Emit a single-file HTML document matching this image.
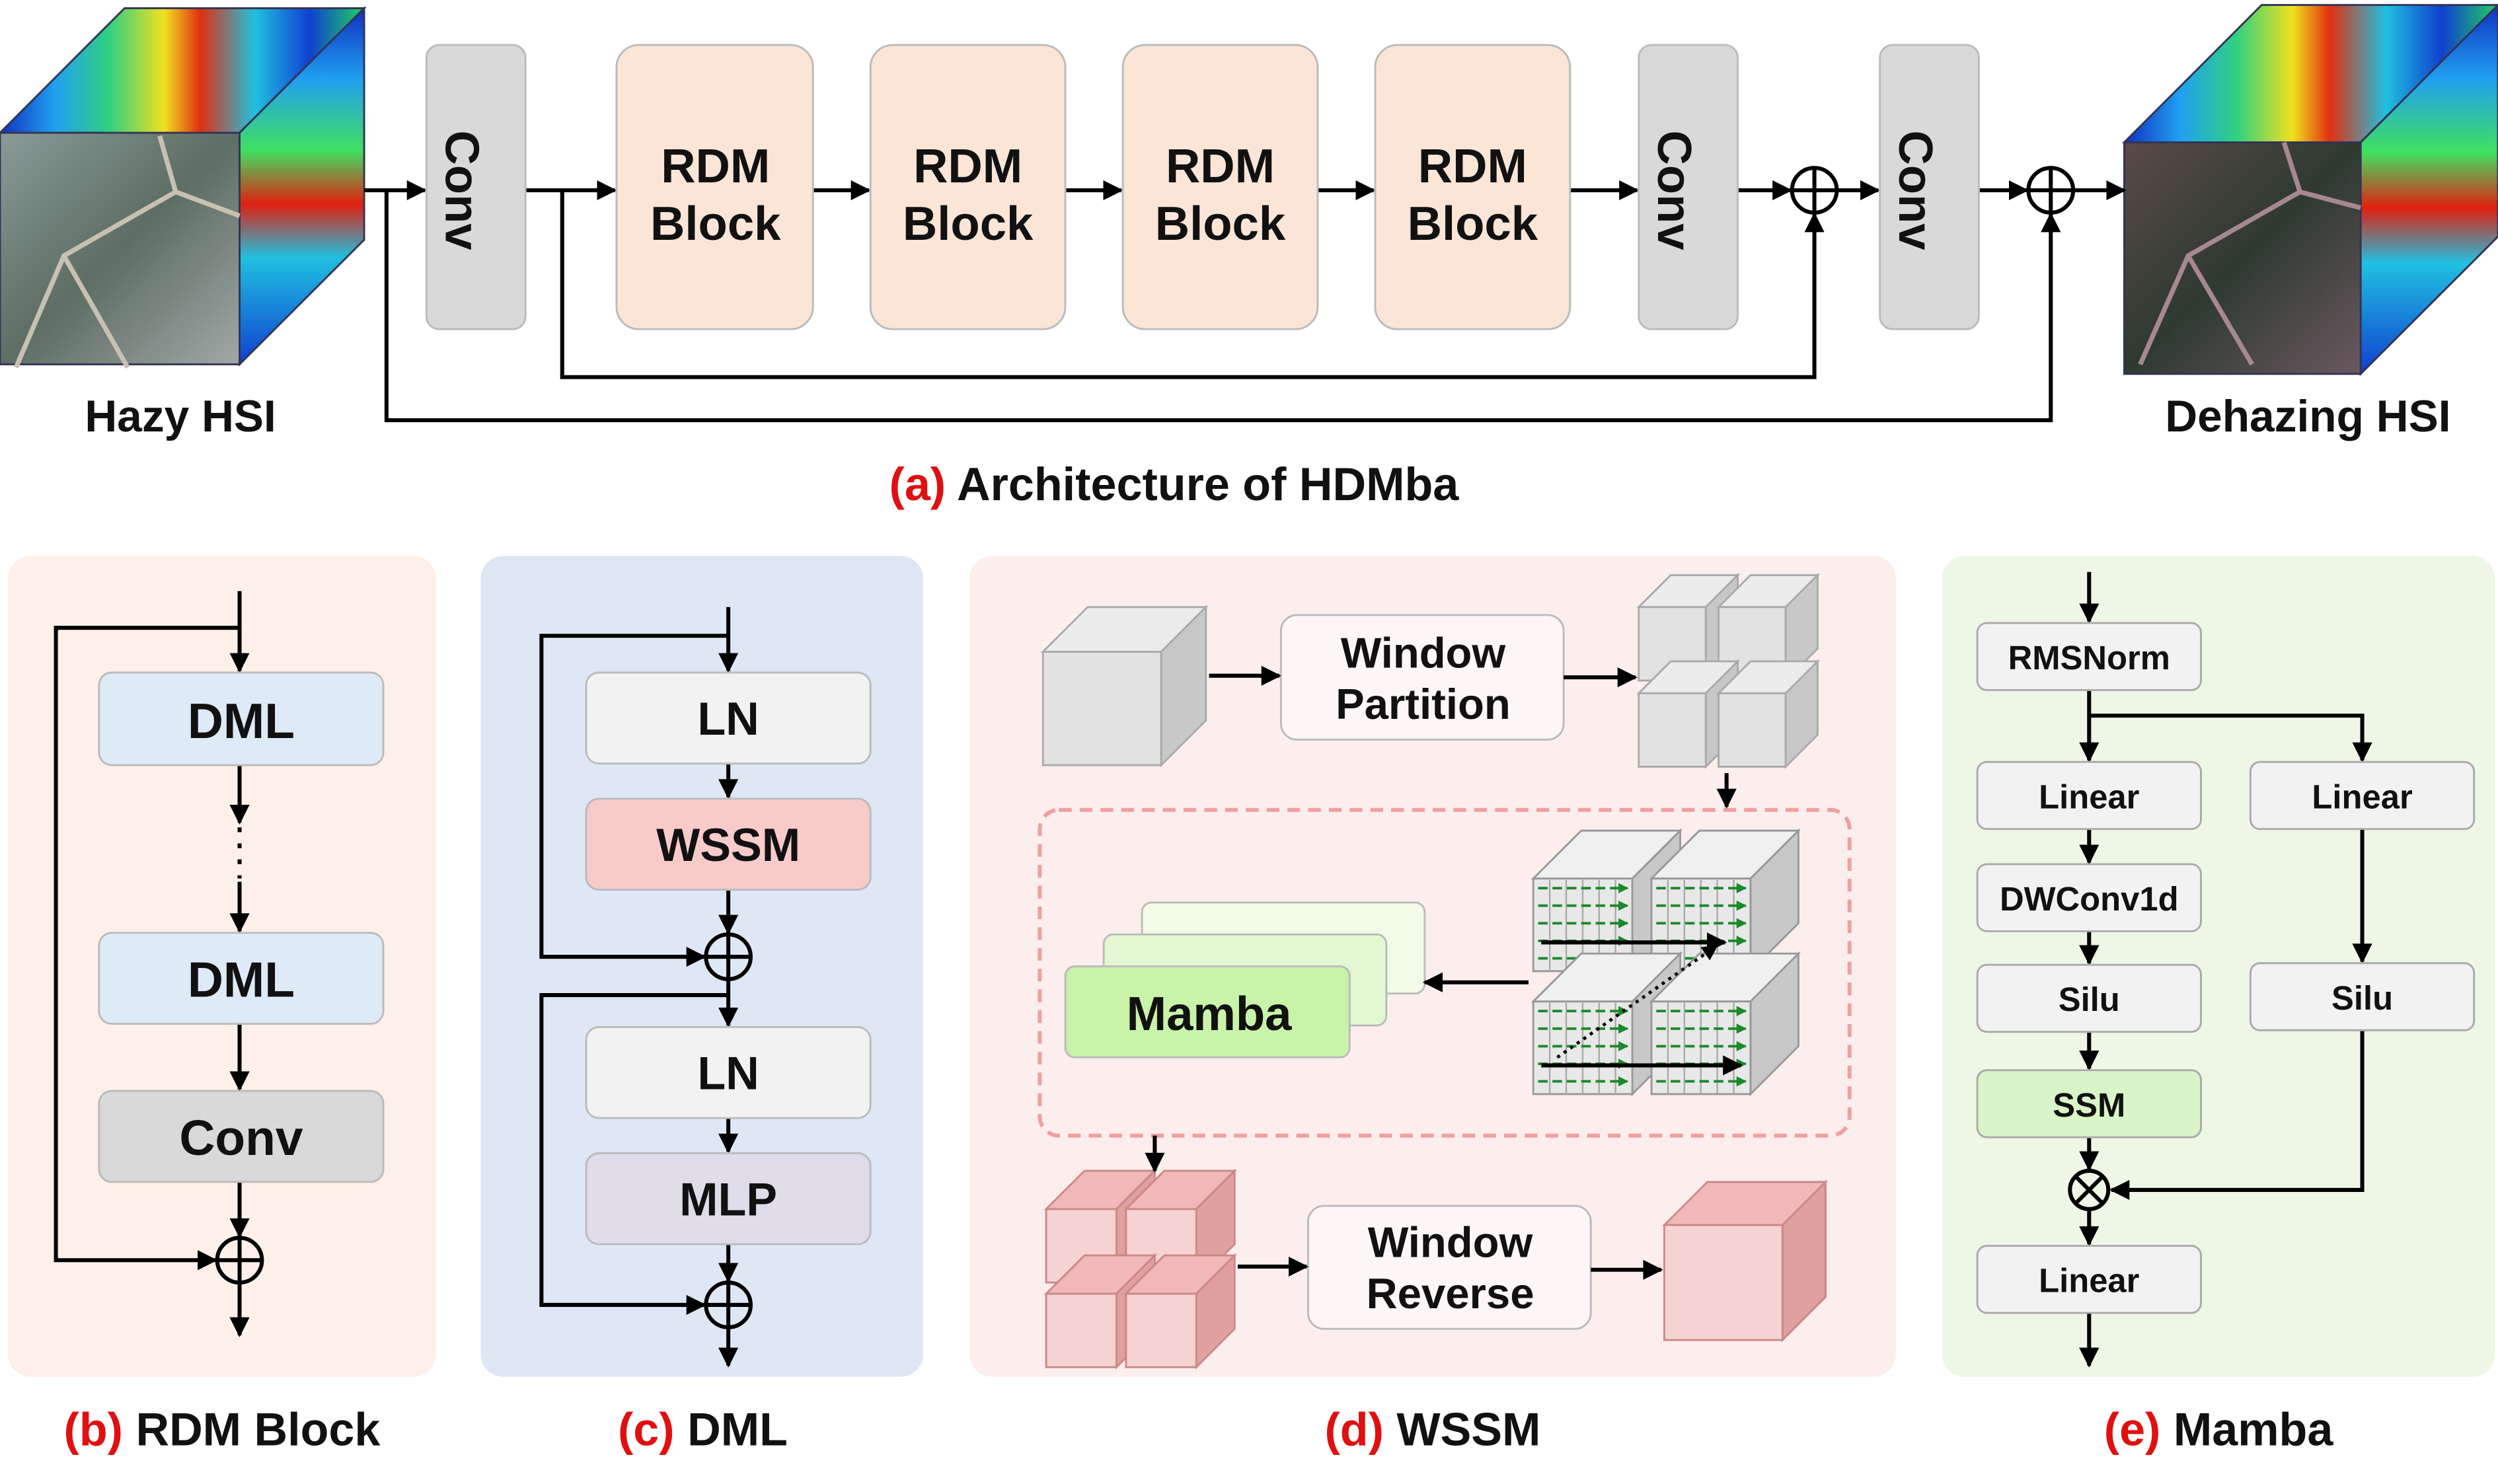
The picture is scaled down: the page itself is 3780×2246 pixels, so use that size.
<!DOCTYPE html>
<html><head><meta charset="utf-8">
<style>
html,body{margin:0;padding:0;background:#fff;}
svg{display:block;}
text{font-family:"Liberation Sans",sans-serif;font-weight:bold;fill:#111;}
</style></head>
<body>
<svg id="s" width="3780" height="2246" viewBox="0 0 1564 929" xmlns="http://www.w3.org/2000/svg">
<defs>
<marker id="ar" viewBox="0 0 10 10" refX="9" refY="5" markerWidth="5" markerHeight="5" orient="auto"><path d="M0,0L10,5L0,10z" fill="#000"/></marker>
<marker id="ag" viewBox="0 0 10 10" refX="9" refY="5" markerWidth="4" markerHeight="4" orient="auto"><path d="M0,0L10,5L0,10z" fill="#1a8a2a"/></marker>
<linearGradient id="spec" x1="0" y1="0" x2="1" y2="0">
<stop offset="0" stop-color="#1030c0"/><stop offset=".15" stop-color="#20a0f0"/><stop offset=".3" stop-color="#30d080"/><stop offset=".45" stop-color="#f0e020"/><stop offset=".55" stop-color="#e03010"/><stop offset=".7" stop-color="#20c0e0"/><stop offset=".85" stop-color="#1040d0"/><stop offset="1" stop-color="#20d060"/></linearGradient>
<linearGradient id="spec2" x1="0" y1="0" x2="0" y2="1">
<stop offset="0" stop-color="#1030c0"/><stop offset=".2" stop-color="#20a0f0"/><stop offset=".4" stop-color="#40e060"/><stop offset=".55" stop-color="#e02010"/><stop offset=".7" stop-color="#20c0e0"/><stop offset="1" stop-color="#1040d0"/></linearGradient>
<linearGradient id="hazy" x1="0" y1="0" x2="1" y2="1"><stop offset="0" stop-color="#8a9a98"/><stop offset=".5" stop-color="#5d6e64"/><stop offset="1" stop-color="#a0a8a6"/></linearGradient>
<linearGradient id="clear" x1="0" y1="0" x2="1" y2="1"><stop offset="0" stop-color="#5a4a4a"/><stop offset=".5" stop-color="#2e3a30"/><stop offset="1" stop-color="#6a5860"/></linearGradient>
</defs>
<!-- panel backgrounds -->
<rect x="5" y="348" width="268" height="514" rx="14" fill="#fdf0e8"/>
<rect x="301" y="348" width="277" height="514" rx="14" fill="#dee8f4"/>
<rect x="607" y="348" width="580" height="514" rx="14" fill="#fdeeee"/>
<rect x="1216" y="348" width="346" height="514" rx="14" fill="#eef6e6"/>
<g id="cubes"></g>
<g fill="none" stroke="#000" stroke-width="2.5">
<path d="M228,119H266" marker-end="url(#ar)"/>
<path d="M329,119H385" marker-end="url(#ar)"/>
<path d="M509,119H544" marker-end="url(#ar)"/>
<path d="M667,119H702" marker-end="url(#ar)"/>
<path d="M825,119H860" marker-end="url(#ar)"/>
<path d="M983,119H1025" marker-end="url(#ar)"/>
<path d="M1088,119H1121" marker-end="url(#ar)"/>
<path d="M1150,119H1176" marker-end="url(#ar)"/>
<path d="M1239,119H1269" marker-end="url(#ar)"/>
<path d="M1298,119H1330" marker-end="url(#ar)"/>
<path d="M352,119V236H1136V134" marker-end="url(#ar)"/>
<path d="M242,119V263H1284V134" marker-end="url(#ar)"/>
<circle cx="1136" cy="119" r="14"/><path d="M1122,119H1150M1136,105V133"/>
<circle cx="1284" cy="119" r="14"/><path d="M1270,119H1298M1284,105V133"/>
</g>
<g stroke="#bbb" stroke-width="1.2">
<rect x="267" y="28" width="62" height="178" rx="8" fill="#d9d9d9"/>
<rect x="386" y="28" width="123" height="178" rx="14" fill="#fbe5d6"/>
<rect x="545" y="28" width="122" height="178" rx="14" fill="#fbe5d6"/>
<rect x="703" y="28" width="122" height="178" rx="14" fill="#fbe5d6"/>
<rect x="861" y="28" width="122" height="178" rx="14" fill="#fbe5d6"/>
<rect x="1026" y="28" width="62" height="178" rx="8" fill="#d9d9d9"/>
<rect x="1177" y="28" width="62" height="178" rx="8" fill="#d9d9d9"/>
</g>
<g font-size="30" text-anchor="middle">
<text transform="translate(287,119) rotate(90)" dominant-baseline="middle" y="0">Conv</text>
<text transform="translate(1046,119) rotate(90)" dominant-baseline="middle">Conv</text>
<text transform="translate(1197,119) rotate(90)" dominant-baseline="middle">Conv</text>
<text x="448" y="114">RDM</text><text x="448" y="150">Block</text>
<text x="606" y="114">RDM</text><text x="606" y="150">Block</text>
<text x="764" y="114">RDM</text><text x="764" y="150">Block</text>
<text x="922" y="114">RDM</text><text x="922" y="150">Block</text>
<text x="113" y="270" font-size="28">Hazy HSI</text>
<text x="1445" y="270" font-size="28">Dehazing HSI</text>
<text x="735" y="313" font-size="29"><tspan style="fill:#e01010">(a)</tspan> Architecture of HDMba</text>
<text x="139" y="905" font-size="29"><tspan style="fill:#e01010">(b)</tspan> RDM Block</text>
<text x="440" y="905" font-size="29"><tspan style="fill:#e01010">(c)</tspan> DML</text>
<text x="897" y="905" font-size="29"><tspan style="fill:#e01010">(d)</tspan> WSSM</text>
<text x="1389" y="905" font-size="29"><tspan style="fill:#e01010">(e)</tspan> Mamba</text>
</g>
<!-- (b) -->
<g fill="none" stroke="#000" stroke-width="2.5">
<path d="M150,370V420" marker-end="url(#ar)"/>
<path d="M150,393H35V789H135" marker-end="url(#ar)"/>
<path d="M150,479V515" marker-end="url(#ar)"/>
<path d="M150,518V550" stroke-dasharray="3,7"/>
<path d="M150,552V583" marker-end="url(#ar)"/>
<path d="M150,641V682" marker-end="url(#ar)"/>
<path d="M150,740V774" marker-end="url(#ar)"/>
<path d="M150,803V836" marker-end="url(#ar)"/>
<circle cx="150" cy="789" r="14"/><path d="M136,789H164M150,775V803"/>
</g>
<g stroke="#bbb" stroke-width="1.2">
<rect x="62" y="421" width="178" height="58" rx="8" fill="#deebf7"/>
<rect x="62" y="584" width="178" height="57" rx="8" fill="#deebf7"/>
<rect x="62" y="683" width="178" height="57" rx="8" fill="#d9d9d9"/>
</g>
<g font-size="31" text-anchor="middle"><text x="151" y="462">DML</text><text x="151" y="624">DML</text><text x="151" y="723">Conv</text></g>
<!-- (c) -->
<g fill="none" stroke="#000" stroke-width="2.5">
<path d="M456,380V420" marker-end="url(#ar)"/>
<path d="M456,398H339V599H441" marker-end="url(#ar)"/>
<path d="M456,478V499" marker-end="url(#ar)"/>
<path d="M456,557V584" marker-end="url(#ar)"/>
<path d="M456,613V642" marker-end="url(#ar)"/>
<path d="M456,623H339V817H441" marker-end="url(#ar)"/>
<path d="M456,700V721" marker-end="url(#ar)"/>
<path d="M456,779V802" marker-end="url(#ar)"/>
<path d="M456,831V855" marker-end="url(#ar)"/>
<circle cx="456" cy="599" r="14"/><path d="M442,599H470M456,585V613"/>
<circle cx="456" cy="817" r="14"/><path d="M442,817H470M456,803V831"/>
</g>
<g stroke="#bbb" stroke-width="1.2">
<rect x="367" y="421" width="178" height="57" rx="8" fill="#f2f2f2"/>
<rect x="367" y="500" width="178" height="57" rx="8" fill="#f8cbcb"/>
<rect x="367" y="643" width="178" height="57" rx="8" fill="#f2f2f2"/>
<rect x="367" y="722" width="178" height="57" rx="8" fill="#e0dcea"/>
</g>
<g font-size="29" text-anchor="middle"><text x="456" y="460">LN</text><text x="456" y="539">WSSM</text><text x="456" y="682">LN</text><text x="456" y="761">MLP</text></g>
<!-- (d) -->
<rect x="651" y="507" width="507" height="204" rx="12" fill="none" stroke="#f0a0a0" stroke-width="2.5" stroke-dasharray="8,5"/>
<g stroke="#bbb" stroke-width="1.2">
<rect x="802" y="385" width="177" height="78" rx="10" fill="#fcf6f6"/>
<rect x="819" y="755" width="177" height="77" rx="10" fill="#fcf6f6"/>
<rect x="715" y="565" width="177" height="57" rx="6" fill="#f2fbe8"/>
<rect x="691" y="585" width="177" height="57" rx="6" fill="#e2f7d2"/>
<rect x="667" y="605" width="178" height="57" rx="6" fill="#c9f3a8"/>
</g>
<g font-size="27" text-anchor="middle"><text x="891" y="418">Window</text><text x="891" y="450">Partition</text>
<text x="908" y="787">Window</text><text x="908" y="819">Reverse</text>
<text x="757" y="645" font-size="30">Mamba</text></g>
<g fill="none" stroke="#000" stroke-width="2.5">
<path d="M757,423H801" marker-end="url(#ar)"/>
<path d="M979,424H1024" marker-end="url(#ar)"/>
<path d="M1081,484V505" marker-end="url(#ar)"/>
<path d="M957,615H892" marker-end="url(#ar)"/>
<path d="M723,711V733" marker-end="url(#ar)"/>
<path d="M775,793H818" marker-end="url(#ar)"/>
<path d="M996,795H1040" marker-end="url(#ar)"/>
</g>
<!-- (e) -->
<g fill="none" stroke="#000" stroke-width="2.5">
<path d="M1308,358V389" marker-end="url(#ar)"/>
<path d="M1308,432V476" marker-end="url(#ar)"/>
<path d="M1308,448H1479V476" marker-end="url(#ar)"/>
<path d="M1308,519V540" marker-end="url(#ar)"/>
<path d="M1308,583V603" marker-end="url(#ar)"/>
<path d="M1308,646V669" marker-end="url(#ar)"/>
<path d="M1308,712V732" marker-end="url(#ar)"/>
<path d="M1308,758V779" marker-end="url(#ar)"/>
<path d="M1308,822V855" marker-end="url(#ar)"/>
<path d="M1479,519V602" marker-end="url(#ar)"/>
<path d="M1479,645V745H1322" marker-end="url(#ar)"/>
<circle cx="1308" cy="745" r="12"/><path d="M1300,737L1316,753M1316,737L1300,753"/>
</g>
<g stroke="#aaa" stroke-width="1.2">
<rect x="1238" y="390" width="140" height="42" rx="6" fill="#f2f2f2"/>
<rect x="1238" y="477" width="140" height="42" rx="6" fill="#f2f2f2"/>
<rect x="1409" y="477" width="140" height="42" rx="6" fill="#f2f2f2"/>
<rect x="1238" y="541" width="140" height="42" rx="6" fill="#f2f2f2"/>
<rect x="1238" y="604" width="140" height="42" rx="6" fill="#f2f2f2"/>
<rect x="1409" y="603" width="140" height="42" rx="6" fill="#f2f2f2"/>
<rect x="1238" y="670" width="140" height="42" rx="6" fill="#d9f5c8"/>
<rect x="1238" y="780" width="140" height="42" rx="6" fill="#f2f2f2"/>
</g>
<g font-size="21" text-anchor="middle">
<text x="1308" y="419">RMSNorm</text><text x="1308" y="506">Linear</text><text x="1479" y="506">Linear</text>
<text x="1308" y="570">DWConv1d</text><text x="1308" y="633">Silu</text><text x="1479" y="632">Silu</text>
<text x="1308" y="699">SSM</text><text x="1308" y="809">Linear</text></g>
<g id="grid"></g>
<script>
var NS="http://www.w3.org/2000/svg";
function el(p,t,a){var e=document.createElementNS(NS,t);for(var k in a)e.setAttribute(k,a[k]);p.appendChild(e);return e;}
var C=document.getElementById("cubes");
function cube(g,x,y,w,h,d,f,t,s,st){
 el(g,"polygon",{points:[x,y+d,x+d,y,x+w+d,y,x+w,y+d].join(","),fill:t,stroke:st,"stroke-width":1.2});
 el(g,"polygon",{points:[x+w,y+d,x+w+d,y,x+w+d,y+h,x+w,y+h+d].join(","),fill:s,stroke:st,"stroke-width":1.2});
 el(g,"rect",{x:x,y:y+d,width:w,height:h,fill:f,stroke:st,"stroke-width":1.2});
}
cube(C,0,5,150,145,78,"url(#hazy)","url(#spec)","url(#spec2)","#335");
cube(C,1330,3,148,145,86,"url(#clear)","url(#spec)","url(#spec2)","#335");
el(C,"path",{d:"M10,230L40,160L110,120L150,135M40,160L80,230M110,120L100,85",stroke:"#c8c0b0","stroke-width":3,fill:"none"});
el(C,"path",{d:"M1340,228L1370,160L1440,120L1478,130M1370,160L1410,228M1440,120L1430,89",stroke:"#a88890","stroke-width":3,fill:"none"});
cube(C,653,380,74,71,28,"#e2e2e2","#ececec","#c8c8c8","#aaa");
var pc=[[1026,360],[1076,360],[1026,414],[1076,414]];
pc.forEach(function(p){cube(C,p[0],p[1],42,46,20,"#e2e2e2","#ececec","#c8c8c8","#aaa");});
var pk=[[655,733],[705,733],[655,786],[705,786]];
pk.forEach(function(p){cube(C,p[0],p[1],44,46,24,"#f5d3d3","#f0b8b8","#e0a0a0","#c88");});
cube(C,1042,740,74,72,27,"#f5d3d3","#f0b8b8","#e0a0a0","#c88");
var G=document.getElementById("grid");
var gc=[[960,520],[1034,520],[960,597],[1034,597]];
gc.forEach(function(p){
 cube(G,p[0],p[1],62,58,30,"#e8e8e8","#f0f0f0","#c8c8c8","#999");
 var x=p[0],y=p[1]+30;
 for(var i=1;i<6;i++)el(G,"line",{x1:x+i*10.3,y1:y,x2:x+i*10.3,y2:y+58,stroke:"#aaa","stroke-width":1});
 for(var j=0;j<5;j++){
  el(G,"line",{x1:x+3,y1:y+6+j*11,x2:x+59,y2:y+6+j*11,stroke:"#1a8a2a","stroke-width":1.6,"stroke-dasharray":"6,3","marker-end":"url(#ag)"});
 }
});
el(G,"path",{d:"M965,590L1080,590",stroke:"#000","stroke-width":2.5,fill:"none","marker-end":"url(#ar)"});
el(G,"path",{d:"M965,667L1090,667",stroke:"#000","stroke-width":2.5,fill:"none","marker-end":"url(#ar)"});
el(G,"path",{d:"M975,662L1075,592",stroke:"#000","stroke-width":2,"stroke-dasharray":"2,3",fill:"none","marker-end":"url(#ar)"});
</script>
</svg>
</body></html>
